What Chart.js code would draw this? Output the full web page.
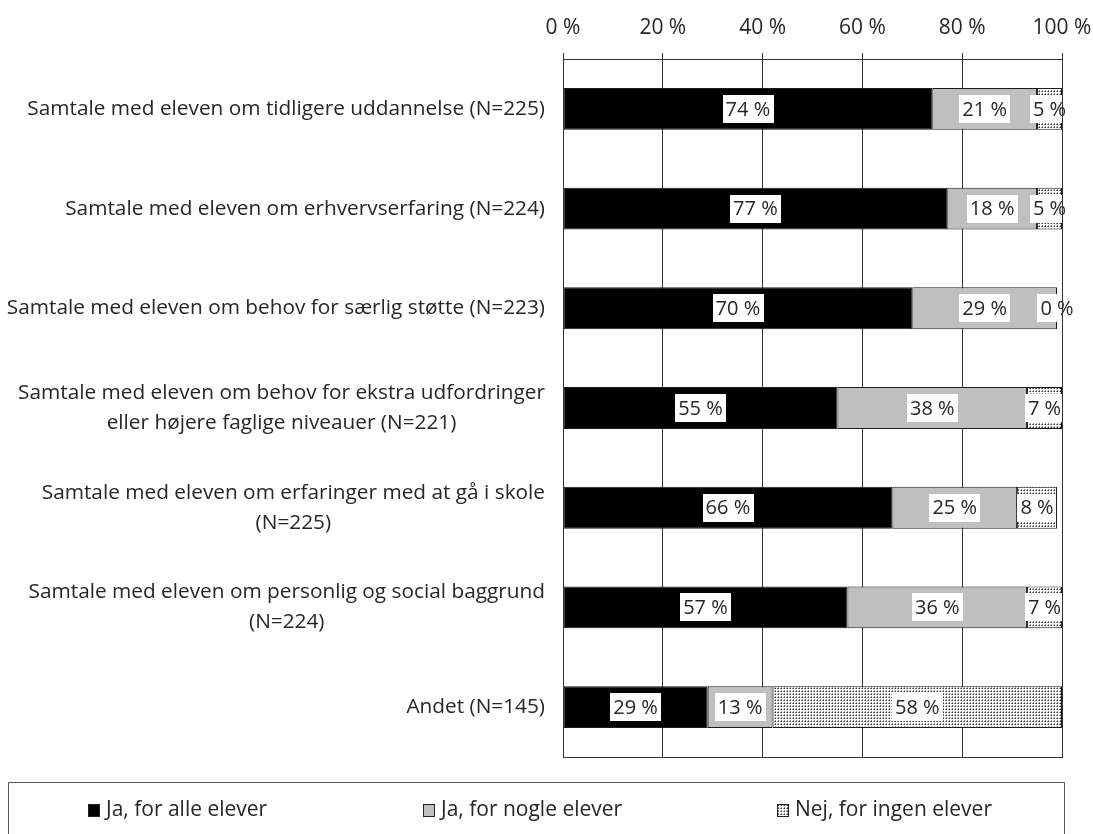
<!DOCTYPE html>
<html>
<head>
<meta charset="utf-8">
<script src="https://cdn.jsdelivr.net/npm/chart.js@4"></script>
<style>
  html, body { margin: 0; padding: 0; background: #ffffff; }
  canvas { display: block; }
</style>
</head>
<body>
<canvas id="chart" width="1093" height="834"></canvas>
<script>
// Question items (multi-line items are given as arrays of lines)
const categories = [
  "Samtale med eleven om tidligere uddannelse (N=225)",
  "Samtale med eleven om erhvervserfaring (N=224)",
  "Samtale med eleven om behov for særlig støtte (N=223)",
  ["Samtale med eleven om behov for ekstra udfordringer", "eller højere faglige niveauer (N=221)"],
  ["Samtale med eleven om erfaringer med at gå i skole", "(N=225)"],
  ["Samtale med eleven om personlig og social baggrund", "(N=224)"],
  "Andet (N=145)"
];

// Share of answers in percent
const forAlleElever  = [74, 77, 70, 55, 66, 57, 29];
const forNogleElever = [21, 18, 29, 38, 25, 36, 13];
const forIngenElever = [5, 5, 0, 7, 8, 7, 58];

const seriesNames = ["Ja, for alle elever", "Ja, for nogle elever", "Nej, for ingen elever"];
const xTickValues = [0, 20, 40, 60, 80, 100];

const FONT = '"Open Sans", "Noto Sans", sans-serif';
const TEXT = '#262626';
const LINE = '#333333';

const canvas = document.getElementById('chart');
const ctx = canvas.getContext('2d');

// Fine dotted fill used for "Nej, for ingen elever"
function makeDotPattern() {
  const tile = document.createElement('canvas');
  tile.width = 3; tile.height = 3;
  const g = tile.getContext('2d');
  g.fillStyle = '#ffffff';
  g.fillRect(0, 0, 3, 3);
  g.fillStyle = '#8c8c8c';
  g.fillRect(0, 1, 1, 1); g.fillRect(1, 0, 1, 1);
  g.fillStyle = '#3a3a3a';
  g.fillRect(1, 1, 1, 1);
  return ctx.createPattern(tile, 'repeat');
}
const dots = makeDotPattern();

const fills = ['#000000', '#bfbfbf', dots];
const seriesData = [forAlleElever, forNogleElever, forIngenElever];

// White boxed value labels centred on each segment
const valueLabels = {
  id: 'valueLabels',
  afterDatasetsDraw(chart) {
    const c = chart.ctx;
    c.save();
    c.font = '20px ' + FONT;
    c.textAlign = 'center';
    c.textBaseline = 'middle';
    chart.data.datasets.forEach((ds, di) => {
      const meta = chart.getDatasetMeta(di);
      meta.data.forEach((bar, i) => {
        const v = ds.data[i];
        const p = bar.getProps(['x', 'y', 'base'], true);
        const cx = (p.x + p.base) / 2;
        const txt = v + ' %';
        const w = c.measureText(txt).width + 6;
        const h = 28;
        c.fillStyle = '#ffffff';
        c.fillRect(Math.round(cx - w / 2), Math.round(p.y - h / 2), Math.round(w), h);
        c.fillStyle = TEXT;
        c.fillText(txt, cx, p.y + 1);
      });
    });
    c.restore();
  }
};

// Frame round the plot area, category labels and the boxed legend
const decorations = {
  id: 'decorations',
  afterDraw(chart) {
    const c = chart.ctx;
    const a = chart.chartArea;
    c.save();
    c.strokeStyle = LINE;
    c.lineWidth = 1;
    c.strokeRect(Math.round(a.left) + 0.5, Math.round(a.top) + 0.5,
                 Math.round(a.right - a.left), Math.round(a.bottom - a.top));

    // category labels: each block right-aligned, its lines centred
    const yScale = chart.scales.y;
    c.font = '20.8px ' + FONT;
    c.fillStyle = TEXT;
    c.textAlign = 'center';
    c.textBaseline = 'middle';
    chart.data.labels.forEach((lab, i) => {
      const lines = Array.isArray(lab) ? lab : [lab];
      const yc = yScale.getPixelForValue(i);
      const w = Math.max(...lines.map(l => c.measureText(l).width));
      const cx = a.left - 18 - w / 2;
      lines.forEach((l, k) => {
        c.fillText(l, cx, yc + (k - (lines.length - 1) / 2) * 30);
      });
    });

    // legend
    const lx = 8, ly = 782, lr = 1064;
    c.strokeStyle = '#555555';
    c.beginPath();
    c.moveTo(lx + 0.5, 900);
    c.lineTo(lx + 0.5, ly + 0.5);
    c.lineTo(lr + 0.5, ly + 0.5);
    c.lineTo(lr + 0.5, 900);
    c.stroke();
    const offsets = [80, 415, 769];
    const midY = 810;
    c.font = '21px ' + FONT;
    c.textAlign = 'left';
    chart.data.datasets.forEach((ds, di) => {
      const x = lx + offsets[di];
      c.fillStyle = ds.backgroundColor;
      c.fillRect(x, midY - 6, 12, 13);
      c.strokeStyle = '#222222';
      c.strokeRect(x + 0.5, midY - 5.5, 11, 12);
      c.fillStyle = TEXT;
      c.fillText(ds.label, x + 18, midY);
    });
    c.restore();
  }
};

new Chart(ctx, {
  type: 'bar',
  data: {
    labels: categories,
    datasets: seriesData.map((d, i) => ({
      label: seriesNames[i],
      data: d,
      backgroundColor: fills[i],
      borderColor: '#1a1a1a',
      borderWidth: 1,
      borderSkipped: false,
      barPercentage: 0.42,
      categoryPercentage: 1.0
    }))
  },
  options: {
    indexAxis: 'y',
    responsive: false,
    animation: false,
    devicePixelRatio: 1,
    layout: { padding: { top: 0, left: 0, right: 31, bottom: 77 } },
    plugins: {
      legend: { display: false },
      tooltip: { enabled: false }
    },
    scales: {
      x: {
        position: 'top',
        stacked: true,
        min: 0,
        max: 100,
        afterBuildTicks(scale) { scale.ticks = xTickValues.map(v => ({ value: v })); },
        afterFit(scale) {
          scale.height = 59;
          scale.paddingLeft = 0;
          scale.paddingRight = 0;
        },
        grid: { color: LINE, lineWidth: 1, drawTicks: true, tickLength: 6, tickColor: LINE },
        border: { display: true, color: LINE },
        ticks: {
          color: TEXT,
          font: { family: FONT, size: 21 },
          padding: 12,
          maxRotation: 0,
          callback: v => v + ' %'
        }
      },
      y: {
        stacked: true,
        afterFit(scale) { scale.width = 563; },
        grid: { display: false, drawTicks: false },
        border: { display: true, color: LINE },
        ticks: { display: false }
      }
    }
  },
  plugins: [valueLabels, decorations]
});
</script>
</body>
</html>
